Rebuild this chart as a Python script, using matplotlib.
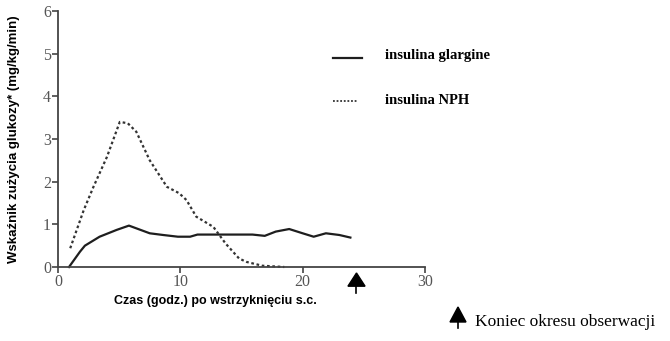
import matplotlib
matplotlib.use("Agg")
import matplotlib.pyplot as plt
from matplotlib.patches import Polygon
from matplotlib.lines import Line2D

# Data
glargine_x = [0.9, 1.8, 2.2, 3.4, 4.8, 5.8, 7.5, 8.6, 9.8, 10.8, 11.4, 13.2, 15.9, 16.9, 17.8, 18.9, 20.0, 20.9, 21.9, 23.0, 23.9]
glargine_y = [0.0, 0.36, 0.50, 0.71, 0.87, 0.97, 0.79, 0.75, 0.71, 0.71, 0.76, 0.76, 0.76, 0.73, 0.83, 0.89, 0.79, 0.71, 0.79, 0.75, 0.69]
nph_x = [1.0, 2.1, 2.9, 4.0, 5.05, 5.7, 6.4, 7.5, 8.9, 9.9, 10.5, 11.3, 12.7, 13.7, 14.8, 15.4, 16.7, 18.5]
nph_y = [0.44, 1.33, 1.88, 2.58, 3.40, 3.37, 3.17, 2.50, 1.88, 1.73, 1.57, 1.18, 0.94, 0.55, 0.20, 0.12, 0.03, 0.0]
end_of_observation = 24.4
xticks = [0, 10, 20, 30]
yticks = [0, 1, 2, 3, 4, 5, 6]
labels = ["insulina glargine", "insulina NPH"]

fig = plt.figure(figsize=(6.7, 3.41), dpi=100)
ax = fig.add_axes([58/670, 1-267/341, (425-58)/670, (267-11)/341])
ax.set_xlim(0, 30)
ax.set_ylim(0, 6)

lc = "#1e1e1e"
ax.plot(glargine_x, glargine_y, color=lc, lw=1.6, clip_on=False)
ax.plot(nph_x, nph_y, color="#333333", lw=1.6, ls=(0, (1.2, 1.2)), clip_on=False)

for s in ["top", "right"]:
    ax.spines[s].set_visible(False)
for s in ["left", "bottom"]:
    ax.spines[s].set_color("#444444")
    ax.spines[s].set_linewidth(1.3)

ax.set_xticks(xticks)
ax.set_yticks(yticks)
ax.tick_params(axis="both", colors="#444444", width=1.2, length=4, labelsize=11.5)
ax.tick_params(axis="y", pad=1)
ax.tick_params(axis="x", pad=1)
for lab in ax.get_xticklabels() + ax.get_yticklabels():
    lab.set_family("Liberation Serif")
    lab.set_color("#555555")

ax.set_ylabel("Wskaźnik zużycia glukozy* (mg/kg/min)", family="Liberation Sans",
              fontweight="bold", fontsize=9.5)
ax.yaxis.set_label_coords(-38/367, 0.5)
ax.set_xlabel("Czas (godz.) po wstrzyknięciu s.c.", family="Liberation Sans",
              fontweight="bold", fontsize=9)
ax.xaxis.set_label_coords(157/367, -28/256)

# End-of-observation arrow under the axis
tri = Polygon([[end_of_observation - 0.7, -0.45], [end_of_observation + 0.7, -0.45],
               [end_of_observation, -0.14]], closed=True, color="black", clip_on=False)
ax.add_patch(tri)
ax.plot([end_of_observation, end_of_observation], [-0.45, -0.6], color="black", lw=1.2, clip_on=False)

# Legend drawn in figure coordinates
def fx(px):
    return px / 670
def fy(py):
    return 1 - py / 341

fig.add_artist(Line2D([fx(333), fx(362)], [fy(58), fy(58)], color=lc, lw=1.6))
fig.add_artist(Line2D([fx(333), fx(358)], [fy(101), fy(101)], color="#333333", lw=1.3, ls=(0, (1, 1))))
fig.text(fx(385), fy(56), labels[0], family="Liberation Serif", fontweight="bold", fontsize=10.5, va="center")
fig.text(fx(385), fy(100), labels[1], family="Liberation Serif", fontweight="bold", fontsize=10.5, va="center")

# Arrow legend
fig.add_artist(Polygon([[fx(450), fy(322)], [fx(466), fy(322)], [fx(458), fy(307)]], closed=True,
                       color="black", transform=fig.transFigure))
fig.add_artist(Line2D([fx(458), fx(458)], [fy(322), fy(328)], color="black", lw=1.2))
fig.text(fx(475), fy(322), "Koniec okresu obserwacji", family="Liberation Serif", fontsize=12.5, va="center")

fig.savefig("out.png", dpi=100)
